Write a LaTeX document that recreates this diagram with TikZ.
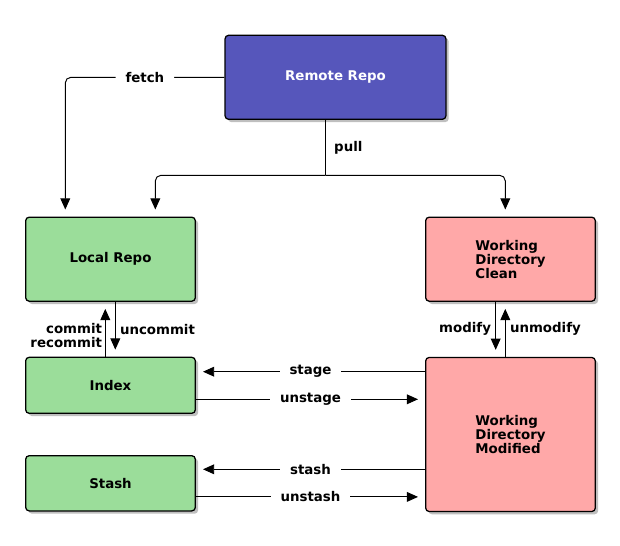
\documentclass[tikz,border=0pt]{standalone}
\usepackage{fontspec}
\setmainfont{DejaVu Sans}
\usetikzlibrary{arrows.meta, positioning, shadows}

\definecolor{remoteblue}{RGB}{86,86,187}
\definecolor{repogreen}{RGB}{155,221,154}
\definecolor{workpink}{RGB}{255,168,168}
\newcommand{\diagfont}{\fontsize{9.5}{10}\selectfont\bfseries}

\begin{document}
\begin{tikzpicture}[
    x=0.025cm, y=-0.025cm,
    box/.style={rectangle, rounded corners=2.5pt, draw=black, line width=0.9pt, inner sep=0pt, font=\diagfont, align=left,
        drop shadow={shadow xshift=2pt, shadow yshift=-2pt, opacity=0.25, fill=black}},
    remotebox/.style={box, fill=remoteblue, text=white, minimum width=5.52cm, minimum height=2.1cm},
    greenbox/.style={box, fill=repogreen, minimum width=4.24cm},
    pinkbox/.style={box, fill=workpink, minimum width=4.24cm},
    flow/.style={-{Triangle[length=8pt, width=7pt]}, line width=0.7pt, shorten >=5pt},
    plain/.style={line width=0.7pt},
    lbl/.style={font=\diagfont, inner sep=2pt},
    gaplbl/.style={lbl, fill=white, inner xsep=7pt}
]
    \useasboundingbox (0,0) rectangle (620,546);

    % Boxes
    \node[remotebox] (remote) at (335.5, 77.3) {Remote Repo};
    \node[greenbox, minimum height=2.1cm] (local) at (110.5, 259.2) {Local Repo};
    \node[greenbox, minimum height=1.4cm] (index) at (110.5, 385.3) {Index};
    \node[greenbox, minimum height=1.38cm] (stash) at (110.5, 483.3) {Stash};
    \node[pinkbox, minimum height=2.1cm] (clean) at (510.5, 259.2) {Working\\Directory\\Clean};
    \node[pinkbox, minimum height=3.85cm] (modified) at (510.5, 434.5) {Working\\Directory\\Modified};

    % fetch and pull
    \draw[flow, rounded corners=4pt] (remote.west) -| node[gaplbl, pos=0.25] {fetch} ([xshift=-1.13cm]local.north);
    \coordinate (split) at ([xshift=-0.255cm]remote.south |- 0,175.3);
    \draw[plain] ([xshift=-0.255cm]remote.south) -- node[lbl, right=4pt] {pull} (split);
    \draw[flow, rounded corners=4pt] (split) -| ([xshift=1.12cm]local.north);
    \draw[flow, rounded corners=4pt] (split) -| ([xshift=-0.13cm]clean.north);

    % commit / uncommit
    \draw[flow] ([xshift=-0.13cm]index.north) -- node[lbl, left, align=right, yshift=-0.15cm] {commit\\recommit} ([xshift=-0.13cm]local.south);
    \draw[flow] ([xshift=0.12cm]local.south) -- node[lbl, right=1pt] {uncommit} ([xshift=0.12cm]index.north);

    % modify / unmodify
    \draw[flow] ([xshift=-0.37cm]clean.south) -- node[lbl, left=1pt] {modify} ([xshift=-0.37cm]modified.north);
    \draw[flow] ([xshift=-0.13cm]modified.north) -- node[lbl, right=1pt] {unmodify} ([xshift=-0.13cm]clean.south);

    % stage / unstage
    \draw[flow] ([yshift=0.34cm]index.east -| modified.west) -- node[gaplbl] {stage} ([yshift=0.34cm]index.east);
    \draw[flow] ([yshift=-0.35cm]index.east) -- node[gaplbl] {unstage} ([yshift=-0.35cm]index.east -| modified.west);

    % stash / unstash
    \draw[flow] ([yshift=0.35cm]stash.east -| modified.west) -- node[gaplbl] {stash} ([yshift=0.35cm]stash.east);
    \draw[flow] ([yshift=-0.34cm]stash.east) -- node[gaplbl] {unstash} ([yshift=-0.34cm]stash.east -| modified.west);

\end{tikzpicture}
\end{document}
